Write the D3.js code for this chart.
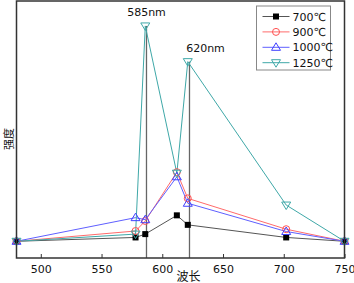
<!DOCTYPE html>
<html>
<head>
<meta charset="utf-8">
<script src="https://cdn.jsdelivr.net/npm/d3@7"></script>
<style>
  body { margin: 0; background: #fff; }
  text { font-family: "DejaVu Sans", "Noto Sans CJK SC", sans-serif; }
</style>
</head>
<body>
<div id="chart"></div>
<script>
var wavelengths = [480, 578, 586, 612, 621, 702, 750];
var s700  = [6.5, 8.0, 9.3, 16.6, 12.9, 8.0, 6.5];
var s900  = [6.5, 10.5, 14.4, 33.4, 23.2, 11.2, 6.5];
var s1000 = [6.5, 15.7, 14.9, 31.6, 21.3, 10.3, 6.5];
var s1250 = [6.5, 9.3, 90.3, 33.0, 76.4, 20.6, 6.5];
var seriesNames = ["700℃", "900℃", "1000℃", "1250℃"];
var xTicks = [500, 550, 600, 650, 700, 750];
var peaks = [{label: "585nm", x: 587, top: 90.3}, {label: "620nm", x: 622.4, top: 76.4}];

var margin = {top: 1, right: 9.5, bottom: 25, left: 16.5},
    width = 354 - margin.left - margin.right,
    height = 283 - margin.top - margin.bottom;

var svg = d3.select("#chart")
    .append("svg")
        .attr("width", 354)
        .attr("height", 283)
    .append("g")
        .attr("transform", "translate(" + margin.left + "," + margin.top + ")");

var x = d3.scaleLinear().domain([480, 750]).range([0, width]);
var y = d3.scaleLinear().domain([0, 100]).range([height, 0]);

var series = [
    {name: seriesNames[0], values: s700,  line: "#555", color: "#000", shape: "square"},
    {name: seriesNames[1], values: s900,  line: "#ff6b6b", color: "#ff5050", shape: "circle"},
    {name: seriesNames[2], values: s1000, line: "#5f5fff", color: "#4040ff", shape: "up"},
    {name: seriesNames[3], values: s1250, line: "#3fa8a8", color: "#3fa8a8", shape: "down"}
];

// peak marker lines
svg.selectAll(".peak")
    .data(peaks)
    .enter()
    .append("line")
        .attr("x1", function(d) { return x(d.x); })
        .attr("x2", function(d) { return x(d.x); })
        .attr("y1", function(d) { return y(d.top); })
        .attr("y2", height)
        .attr("stroke", "#666")
        .attr("stroke-width", 1.3);

var line = d3.line()
    .x(function(d, i) { return x(wavelengths[i]); })
    .y(function(d) { return y(d); });

function drawMarker(g, shape, color, cx, cy) {
    if (shape == "square") {
        g.append("rect").attr("x", cx - 3).attr("y", cy - 3)
            .attr("width", 6).attr("height", 6).attr("fill", color);
    } else if (shape == "circle") {
        g.append("circle").attr("cx", cx).attr("cy", cy).attr("r", 3.5)
            .attr("fill", "none").attr("stroke", color);
    } else if (shape == "up") {
        g.append("path")
            .attr("d", "M" + cx + "," + (cy - 4.5) + "L" + (cx + 4.5) + "," + (cy + 3) + "L" + (cx - 4.5) + "," + (cy + 3) + "Z")
            .attr("fill", "none").attr("stroke", color);
    } else {
        g.append("path")
            .attr("d", "M" + cx + "," + (cy + 4.5) + "L" + (cx + 4.5) + "," + (cy - 3) + "L" + (cx - 4.5) + "," + (cy - 3) + "Z")
            .attr("fill", "none").attr("stroke", color);
    }
}

series.forEach(function(s) {
    svg.append("path")
        .datum(s.values)
        .attr("d", line)
        .attr("fill", "none")
        .attr("stroke", s.line)
        .attr("stroke-width", 1);
});

series.forEach(function(s) {
    var g = svg.append("g");
    s.values.forEach(function(v, i) {
        drawMarker(g, s.shape, s.color, x(wavelengths[i]), y(v));
    });
});

// peak labels
svg.selectAll(".peaklabel")
    .data(peaks)
    .enter()
    .append("text")
        .attr("x", function(d, i) { return i == 0 ? x(d.x) : x(d.x) + 16; })
        .attr("y", function(d) { return y(d.top) - 10; })
        .attr("text-anchor", "middle")
        .style("font-size", "11px")
        .attr("fill", "#111")
        .text(function(d) { return d.label; });

// x axis
var xAxis = svg.append("g")
    .attr("transform", "translate(0," + height + ")")
    .call(d3.axisBottom(x).tickValues(xTicks).tickSizeInner(-4).tickSizeOuter(0).tickPadding(7));
xAxis.select(".domain").remove();
xAxis.selectAll("line").attr("stroke", "#333");
xAxis.selectAll("text").style("font-size", "11px").attr("fill", "#111")
    .style("font-family", "DejaVu Sans, sans-serif");

// frame
svg.append("rect")
    .attr("x", 0).attr("y", 0)
    .attr("width", width).attr("height", height)
    .attr("fill", "none")
    .attr("stroke", "#333")
    .attr("stroke-width", 1.5);

svg.append("text")
    .attr("x", 172)
    .attr("y", height + 23)
    .attr("text-anchor", "middle")
    .style("font-size", "12px")
    .attr("fill", "#111")
    .text("波长");

svg.append("text")
    .attr("transform", "rotate(-90)")
    .attr("x", -138)
    .attr("y", -4)
    .attr("text-anchor", "middle")
    .style("font-size", "11px")
    .attr("fill", "#111")
    .text("强度");

// legend
var legend = svg.append("g").attr("transform", "translate(240,5)");
legend.append("rect")
    .attr("x", 0).attr("y", 0)
    .attr("width", 74).attr("height", 64)
    .attr("fill", "#fff")
    .attr("stroke", "#888");
series.forEach(function(s, i) {
    var ly = 10.5 + i * 15.4;
    legend.append("line")
        .attr("x1", 6).attr("x2", 33)
        .attr("y1", ly).attr("y2", ly)
        .attr("stroke", s.line);
    drawMarker(legend, s.shape, s.color, 19.5, ly);
    legend.append("text")
        .attr("x", 36)
        .attr("y", ly + 4)
        .style("font-size", "11px")
        .attr("fill", "#111")
        .text(s.name);
});
</script>
</body>
</html>
